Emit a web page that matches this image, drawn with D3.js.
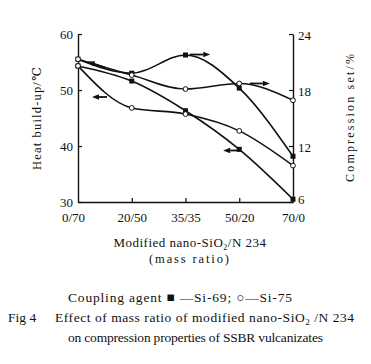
<!DOCTYPE html>
<html><head><meta charset="utf-8">
<script src="https://cdn.jsdelivr.net/npm/d3@7/dist/d3.min.js"></script>
<style>body{margin:0;background:#fff}svg{display:block}text{font-family:"Liberation Serif","DejaVu Serif",serif;fill:#111}</style>
</head><body><svg id="c" width="371" height="364"></svg>
<script>
const categories = ["0/70","20/50","35/35","50/20","70/0"];
const heatSi69 = [54.3, 51.6, 46.3, 39.4, 30.5];
const heatSi75 = [54.3, 46.8, 45.7, 42.7, 36.5];
const compSi69 = [21.3, 19.8, 21.75, 18.2, 10.9];
const compSi75 = [21.3, 19.6, 18.1, 18.7, 16.9];
const leftTicks = [30, 40, 50, 60];
const rightTicks = [6, 12, 18, 24];
// arrows: [fromIndex, fromValue, toIndex, toValue, axis]
const arrows = [
  [2.08, 21.8, 2.46, 21.8, "R"],
  [3.2, 18.7, 3.57, 18.7, "R"],
  [0.54, 48.75, 0.26, 48.75, "L"],
  [3.01, 39.2, 2.7, 39.2, "L"],
  [0.5, 54.0, 0.18, 55.1, "L"]
];

const svg = d3.select("#c");
const x = d3.scalePoint().domain(categories).range([78, 293]);
const xi = d3.scaleLinear().domain([0, 4]).range([78, 293]);
const yL = d3.scaleLinear().domain([30, 60]).range([202, 34]);
const yR = d3.scaleLinear().domain([6, 24]).range([202, 34]);

const g = svg.append("g");

// axes
const ax = g.append("g").attr("transform", "translate(78,0)")
  .call(d3.axisLeft(yL).tickValues(leftTicks).tickSizeInner(-4).tickSizeOuter(0).tickPadding(5));
const axR = g.append("g").attr("transform", "translate(293,0)")
  .call(d3.axisRight(yR).tickValues(rightTicks).tickSizeInner(-4).tickSizeOuter(0).tickPadding(5));
const axB = g.append("g").attr("transform", "translate(0,202)")
  .call(d3.axisBottom(x).tickSizeInner(-4).tickSizeOuter(0).tickPadding(11));
[ax, axR, axB].forEach(a => {
  a.select(".domain").attr("stroke", "#111").attr("stroke-width", 1.4);
  a.selectAll(".tick line").attr("stroke", "#111").attr("stroke-width", 1.2);
  a.selectAll("text").attr("font-size", 13).attr("font-family", "Liberation Serif").attr("fill", "#111");
});
axR.selectAll(".tick text").attr("dy", d => d === 6 ? "0.15em" : "0.45em");
axB.selectAll(".tick").filter((d, i) => i === 0 || i === 4).select("line").remove();
axB.selectAll(".tick").filter((d, i) => i === 0).select("text").attr("dx", -5);

// lines
const lineL = d3.line().x((d, i) => x(categories[i])).y(d => yL(d)).curve(d3.curveMonotoneX);
const lineR = d3.line().x((d, i) => x(categories[i])).y(d => yR(d)).curve(d3.curveMonotoneX);
const series = [
  {v: heatSi69, l: lineL, y: yL, m: "sq"},
  {v: heatSi75, l: lineL, y: yL, m: "ci"},
  {v: compSi69, l: lineR, y: yR, m: "sq"},
  {v: compSi75, l: lineR, y: yR, m: "ci"}
];
series.forEach(s => {
  g.append("path").attr("d", s.l(s.v)).attr("fill", "none").attr("stroke", "#111").attr("stroke-width", 1.6);
});
series.forEach(s => {
  s.v.forEach((d, i) => {
    const cx = x(categories[i]), cy = s.y(d);
    if (s.m === "sq") {
      g.append("rect").attr("x", cx - 2.5).attr("y", cy - 2.5).attr("width", 5).attr("height", 5).attr("fill", "#111");
    } else {
      g.append("circle").attr("cx", cx).attr("cy", cy).attr("r", 2.4).attr("fill", "#fff").attr("stroke", "#111").attr("stroke-width", 1);
    }
  });
});

// arrows
arrows.forEach(a => {
  const ys = a[4] === "L" ? yL : yR;
  const x0 = xi(a[0]), y0 = ys(a[1]), x1 = xi(a[2]), y1 = ys(a[3]);
  const ang = Math.atan2(y1 - y0, x1 - x0);
  const hl = 7, hw = 2.8;
  const bx = x1 - hl * Math.cos(ang), by = y1 - hl * Math.sin(ang);
  g.append("line").attr("x1", x0).attr("y1", y0).attr("x2", bx).attr("y2", by).attr("stroke", "#111").attr("stroke-width", 1.8);
  g.append("path").attr("d", `M${x1},${y1}L${bx - hw * Math.sin(ang)},${by + hw * Math.cos(ang)}L${bx + hw * Math.sin(ang)},${by - hw * Math.cos(ang)}Z`).attr("fill", "#111");
});

// axis titles
g.append("text").attr("transform", "translate(41,118.5) rotate(-90)").attr("text-anchor", "middle").attr("font-size", 12.5)
  .attr("textLength", 103).attr("lengthAdjust", "spacing").text("Heat build-up/℃");
g.append("text").attr("transform", "translate(354,118) rotate(-90)").attr("text-anchor", "middle").attr("font-size", 12)
  .attr("textLength", 128).attr("lengthAdjust", "spacing").text("Compression set/%");
const xt = g.append("text").attr("x", 190).attr("y", 246.5).attr("text-anchor", "middle").attr("font-size", 13)
  .attr("letter-spacing", 0.5);
xt.append("tspan").text("Modified nano-SiO");
xt.append("tspan").attr("font-size", 8).attr("dy", 3).text("2");
xt.append("tspan").attr("dy", -3).text("/N 234");
g.append("text").attr("x", 189).attr("y", 263).attr("text-anchor", "middle").attr("font-size", 12.5)
  .attr("textLength", 80).attr("lengthAdjust", "spacing").text("(mass ratio)");

// caption
g.append("text").attr("x", 180).attr("y", 302).attr("text-anchor", "middle").attr("font-size", 13.5)
  .attr("textLength", 224).attr("lengthAdjust", "spacing")
  .text("Coupling agent ■ —Si-69; ○—Si-75");
g.append("text").attr("x", 8).attr("y", 322).attr("font-size", 13.5).text("Fig 4");
const c2 = g.append("text").attr("x", 55).attr("y", 322).attr("font-size", 13.5).attr("letter-spacing", 0.55);
c2.append("tspan").text("Effect of mass ratio of modified nano-SiO");
c2.append("tspan").attr("font-size", 9).attr("dy", 3).text("2");
c2.append("tspan").attr("dy", -3).text(" /N 234");
g.append("text").attr("x", 68).attr("y", 342).attr("font-size", 13.5)
  .attr("textLength", 255).attr("lengthAdjust", "spacing")
  .text("on compression properties of SSBR vulcanizates");
</script></body></html>
